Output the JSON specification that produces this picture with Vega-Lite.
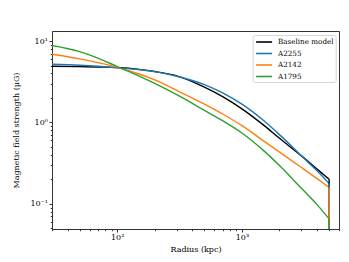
{
  "$schema": "https://vega.github.io/schema/vega-lite/v6.json",
  "width": 287,
  "height": 198,
  "autosize": {"type": "none"},
  "padding": {"left": 52, "top": 31, "right": 10, "bottom": 33},
  "background": "white",
  "config": {
    "font": "DejaVu Serif",
    "view": {"stroke": "#333333", "strokeWidth": 1}
  },
  "data": {
    "values": [
      {"s": "Baseline model", "i": 0, "r": 30, "B": 4.9},
      {"s": "Baseline model", "i": 1, "r": 50, "B": 4.85},
      {"s": "Baseline model", "i": 2, "r": 70, "B": 4.8},
      {"s": "Baseline model", "i": 3, "r": 100, "B": 4.73},
      {"s": "Baseline model", "i": 4, "r": 150, "B": 4.49},
      {"s": "Baseline model", "i": 5, "r": 200, "B": 4.22},
      {"s": "Baseline model", "i": 6, "r": 300, "B": 3.74},
      {"s": "Baseline model", "i": 7, "r": 500, "B": 2.72},
      {"s": "Baseline model", "i": 8, "r": 700, "B": 2.08},
      {"s": "Baseline model", "i": 9, "r": 1000, "B": 1.47},
      {"s": "Baseline model", "i": 10, "r": 1500, "B": 0.92},
      {"s": "Baseline model", "i": 11, "r": 2000, "B": 0.638},
      {"s": "Baseline model", "i": 12, "r": 3000, "B": 0.388},
      {"s": "Baseline model", "i": 13, "r": 4000, "B": 0.267},
      {"s": "Baseline model", "i": 14, "r": 5000, "B": 0.2},
      {"s": "A2255", "i": 0, "r": 30, "B": 5.2},
      {"s": "A2255", "i": 1, "r": 50, "B": 5.05},
      {"s": "A2255", "i": 2, "r": 70, "B": 4.9},
      {"s": "A2255", "i": 3, "r": 100, "B": 4.7},
      {"s": "A2255", "i": 4, "r": 150, "B": 4.45},
      {"s": "A2255", "i": 5, "r": 200, "B": 4.21},
      {"s": "A2255", "i": 6, "r": 300, "B": 3.7},
      {"s": "A2255", "i": 7, "r": 500, "B": 2.92},
      {"s": "A2255", "i": 8, "r": 700, "B": 2.31},
      {"s": "A2255", "i": 9, "r": 1000, "B": 1.68},
      {"s": "A2255", "i": 10, "r": 1500, "B": 1.05},
      {"s": "A2255", "i": 11, "r": 2000, "B": 0.708},
      {"s": "A2255", "i": 12, "r": 3000, "B": 0.389},
      {"s": "A2255", "i": 13, "r": 4000, "B": 0.254},
      {"s": "A2255", "i": 14, "r": 5000, "B": 0.177},
      {"s": "A2142", "i": 0, "r": 30, "B": 6.9},
      {"s": "A2142", "i": 1, "r": 50, "B": 6.05},
      {"s": "A2142", "i": 2, "r": 70, "B": 5.43},
      {"s": "A2142", "i": 3, "r": 100, "B": 4.76},
      {"s": "A2142", "i": 4, "r": 150, "B": 3.94},
      {"s": "A2142", "i": 5, "r": 200, "B": 3.33},
      {"s": "A2142", "i": 6, "r": 300, "B": 2.48},
      {"s": "A2142", "i": 7, "r": 500, "B": 1.68},
      {"s": "A2142", "i": 8, "r": 700, "B": 1.27},
      {"s": "A2142", "i": 9, "r": 1000, "B": 0.912},
      {"s": "A2142", "i": 10, "r": 1500, "B": 0.589},
      {"s": "A2142", "i": 11, "r": 2000, "B": 0.432},
      {"s": "A2142", "i": 12, "r": 3000, "B": 0.279},
      {"s": "A2142", "i": 13, "r": 4000, "B": 0.204},
      {"s": "A2142", "i": 14, "r": 5000, "B": 0.159},
      {"s": "A1795", "i": 0, "r": 30, "B": 8.81},
      {"s": "A1795", "i": 1, "r": 50, "B": 7.41},
      {"s": "A1795", "i": 2, "r": 70, "B": 6.17},
      {"s": "A1795", "i": 3, "r": 100, "B": 4.86},
      {"s": "A1795", "i": 4, "r": 150, "B": 3.72},
      {"s": "A1795", "i": 5, "r": 200, "B": 3.02},
      {"s": "A1795", "i": 6, "r": 300, "B": 2.19},
      {"s": "A1795", "i": 7, "r": 500, "B": 1.41},
      {"s": "A1795", "i": 8, "r": 700, "B": 1.05},
      {"s": "A1795", "i": 9, "r": 1000, "B": 0.741},
      {"s": "A1795", "i": 10, "r": 1500, "B": 0.447},
      {"s": "A1795", "i": 11, "r": 2000, "B": 0.295},
      {"s": "A1795", "i": 12, "r": 3000, "B": 0.155},
      {"s": "A1795", "i": 13, "r": 4000, "B": 0.0977},
      {"s": "A1795", "i": 14, "r": 5000, "B": 0.0653}
    ]
  },
  "encoding": {
    "x": {
      "field": "r", "type": "quantitative",
      "scale": {"type": "log", "domain": [30, 6000], "nice": false},
      "axis": {
        "title": "Radius (kpc)",
        "titleFont": "DejaVu Serif", "titleFontSize": 8, "titleFontWeight": "normal", "titleColor": "black",
        "titlePadding": 4,
        "values": [30, 40, 50, 60, 70, 80, 90, 100, 200, 300, 400, 500, 600, 700, 800, 900, 1000, 2000, 3000, 4000, 5000, 6000],
        "labelExpr": "datum.value == 100 ? '10²' : datum.value == 1000 ? '10³' : ''",
        "labelOverlap": false,
        "labelFont": "DejaVu Serif", "labelFontSize": 8, "labelColor": "black", "labelPadding": 1,
        "labelFlush": false,
        "tickColor": "#333333",
        "tickSize": {"condition": {"test": "datum.value == 100 || datum.value == 1000", "value": 3}, "value": 1.7},
        "domain": false, "grid": false
      }
    },
    "y": {
      "field": "B", "type": "quantitative",
      "scale": {"type": "log", "domain": [0.049, 13.3], "nice": false},
      "axis": {
        "title": "Magnetic field strength (μG)",
        "titleFont": "DejaVu Serif", "titleFontSize": 8, "titleFontWeight": "normal", "titleColor": "black",
        "titlePadding": 9,
        "values": [0.05, 0.06, 0.07, 0.08, 0.09, 0.1, 0.2, 0.3, 0.4, 0.5, 0.6, 0.7, 0.8, 0.9, 1, 2, 3, 4, 5, 6, 7, 8, 9, 10],
        "labelExpr": "datum.value == 10 ? '10¹' : datum.value == 1 ? '10⁰' : datum.value == 0.1 ? '10⁻¹' : ''",
        "labelOverlap": false,
        "labelFont": "DejaVu Serif", "labelFontSize": 8, "labelColor": "black", "labelPadding": 1.5,
        "labelFlush": false,
        "tickColor": "#333333",
        "tickSize": {"condition": {"test": "datum.value == 10 || datum.value == 1 || datum.value == 0.1", "value": 3}, "value": 1.7},
        "domain": false, "grid": false
      }
    },
    "color": {
      "field": "s", "type": "nominal",
      "scale": {"domain": ["Baseline model", "A2255", "A2142", "A1795"], "range": ["#000000", "#1f77b4", "#ff7f0e", "#2ca02c"]},
      "legend": {
        "title": null,
        "orient": "none", "legendX": 200.7, "legendY": 4,
        "padding": 2,
        "symbolType": "M-0.9,0H3.1",
        "symbolSize": 64,
        "symbolStrokeWidth": 1.6,
        "rowPadding": 2.5,
        "labelOffset": 13.3,
        "labelFont": "DejaVu Serif", "labelFontSize": 7.2, "labelColor": "black",
        "strokeColor": "#d6d6d6", "fillColor": "white", "cornerRadius": 2
      }
    }
  },
  "layer": [
    {
      "mark": {"type": "line", "clip": true, "strokeWidth": 1.4, "interpolate": "monotone"},
      "encoding": {"order": {"field": "i", "type": "quantitative"}}
    },
    {
      "transform": [{"filter": "datum.i == 14"}],
      "mark": {"type": "rule", "clip": true, "strokeWidth": 1.4},
      "encoding": {"y2": {"datum": 0.01}}
    }
  ]
}
